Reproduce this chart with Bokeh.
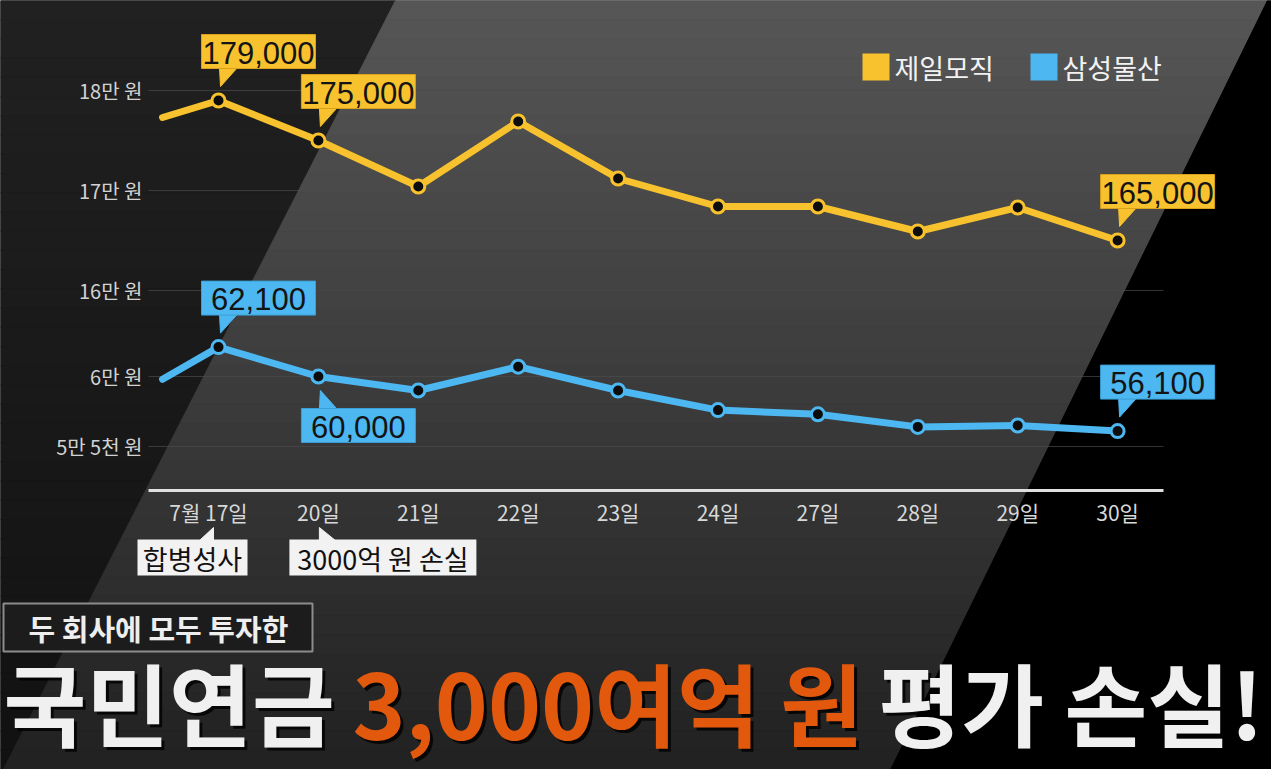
import numpy as np
from bokeh.plotting import figure
from bokeh.models import Range1d
from bokeh.core.properties import value
from bokeh.embed import file_html
from bokeh.resources import INLINE

days = ["7월 17일", "20일", "21일", "22일", "23일", "24일", "27일", "28일", "29일", "30일"]
cheil = [179000, 175000, 170400, 176900, 171200, 168400, 168400, 165900, 168300, 165000]
samsung = [62100, 60000, 59000, 60700, 59000, 57600, 57300, 56400, 56500, 56100]
# the lines come in from the previous trading day, cut at the left edge
lead_day = -0.56
cheil_lead = 177300
samsung_lead = 59800

upper_ticks = [180000, 170000, 160000]
upper_tick_labels = ["18만 원", "17만 원", "16만 원"]
lower_ticks = [60000, 55000]
lower_tick_labels = ["6만 원", "5만 5천 원"]

cheil_callouts = [0, 1, 9]
samsung_callouts = [0, 1, 9]
samsung_below = [1]          # 60,000 label hangs under its point
events = ["합병성사", "3000억 원 손실"]
event_days = [0, 1]

series_names = ["제일모직", "삼성물산"]
YELLOW = "#F7C22E"
BLUE = "#4DB7F1"
KR = value("Noto Sans CJK KR")
NUM = value("Liberation Sans")

# --- page / scale layout (page pixels) ---
W, H = 1271, 769
X0, DX = 218, 99.9             # pixel of first day, pixels per day
days_rng = Range1d(-X0 / DX, (W - X0) / DX)
upper_rng = Range1d(180000 - (H - 90) * 100, 180000 + 90 * 100)
lower_rng = Range1d(60000 - (H - 376) * 1000 / 14, 60000 + 376 * 1000 / 14)

p = figure(width=W, height=H, x_axis_type=None, y_axis_type=None,
           x_range=Range1d(0, W), y_range=Range1d(H, 0),
           toolbar_location=None, output_backend="svg", min_border=0)
p.extra_x_ranges = {"days": days_rng}
p.extra_y_ranges = {"upper": upper_rng, "lower": lower_rng}
p.background_fill_color = "#1b1b1b"
p.border_fill_color = "#1b1b1b"
p.outline_line_color = None


def to_px(i, v, rng):
    x = (i - days_rng.start) / (days_rng.end - days_rng.start) * W
    y = (rng.end - v) / (rng.end - rng.start) * H
    return x, y


# background: dark left, lighter diagonal band, black right
N = 40
ys = np.linspace(0, H, N + 1)
band_l = lambda y: 395 - 0.51 * y
band_r = lambda y: 1267 - 0.49 * y
xs_b, ys_b, col_b, xs_l, ys_l, col_l = [], [], [], [], [], []
for k in range(N):
    a, b = ys[k], ys[k + 1]
    xs_b.append([band_l(a), band_r(a), band_r(b), band_l(b)])
    ys_b.append([a, a, b, b])
    g = int(86 - (86 - 34) * k / (N - 1))
    col_b.append("#%02x%02x%02x" % (g, g, g))
    xs_l.append([0, band_l(a), band_l(b), 0])
    ys_l.append([a, a, b, b])
    g = int(33 - 15 * k / (N - 1))
    col_l.append("#%02x%02x%02x" % (g, g, g))
p.patches(xs_l, ys_l, fill_color=col_l, line_color=col_l, line_width=1)
p.patches(xs_b, ys_b, fill_color=col_b, line_color=col_b, line_width=1)
p.patch([band_r(0), W, W, band_r(H)], [0, 0, H, H],
        fill_color="#000000", line_color="#000000")

# gridlines and y labels
for ticks, labels, rng in [(upper_ticks, upper_tick_labels, "upper"),
                           (lower_ticks, lower_tick_labels, "lower")]:
    p.segment(x0=148, x1=1163, y0=ticks, y1=ticks, y_range_name=rng,
              line_color="#4a4a4a", line_width=1, line_alpha=0.7)
    p.text(x=142, y=ticks, text=labels, y_range_name=rng, text_align="right",
           text_baseline="middle", text_font=KR, text_font_size="20px",
           text_color="#d2d2d2")

# x axis
p.segment(x0=148, x1=1163, y0=490, y1=490, line_color="#e0e0e0", line_width=3)
idx = list(range(len(days)))
p.text(x=idx, y=511, text=days, x_range_name="days", text_align="center",
       text_baseline="middle", text_font=KR, text_font_size="21px",
       text_color="#d8d8d8", x_offset=[-10] + [0] * (len(days) - 1))

# series
for vals, lead, color, rng in [(cheil, cheil_lead, YELLOW, "upper"),
                               (samsung, samsung_lead, BLUE, "lower")]:
    p.line([lead_day] + idx, [lead] + vals, x_range_name="days", y_range_name=rng,
           line_color=color, line_width=7, line_join="round", line_cap="round")
    p.scatter(idx, vals, x_range_name="days", y_range_name=rng, size=13,
              fill_color="#0d0d0d", line_color=color, line_width=3)

# value callouts
for vals, picks, color, rng_name, rng in [(cheil, cheil_callouts, YELLOW, "upper", upper_rng),
                                          (samsung, samsung_callouts, BLUE, "lower", lower_rng)]:
    for i in picks:
        px, py = to_px(i, vals[i], rng)
        below = rng_name == "lower" and i in samsung_below
        left, right = px - 17, px + 97
        if below:
            top, bottom = py + 32, py + 66
            tri_y = [top + 1, top + 1, py + 14]
        else:
            top, bottom = py - 66, py - 32
            tri_y = [bottom - 1, bottom - 1, py - 14]
        p.patch([px + 1, px + 19, px + 2], tri_y, fill_color=color, line_color=color)
        p.quad(left=left, right=right, top=top, bottom=bottom,
               fill_color=color, line_color="#d9a21a" if color == YELLOW else "#3a9fd6")
        p.text(x=(left + right) / 2, y=(top + bottom) / 2 + 1, text=[f"{vals[i]:,}"],
               text_align="center", text_baseline="middle", text_font=NUM,
               text_font_size="31px", text_color="#141414")

# event notes under the axis
event_left = [-81, -29]
event_width = [110, 187]
for k, (name, d) in enumerate(zip(events, event_days)):
    px, _ = to_px(d, 0, upper_rng)
    left = px + event_left[k]
    right = left + event_width[k]
    tip = px - 5 if k == 0 else px + 1
    if k == 0:
        p.patch([tip - 14, tip, tip], [540, 540, 527], fill_color="#f2f2f2", line_color="#f2f2f2")
    else:
        p.patch([tip, tip, tip + 16], [540, 527, 540], fill_color="#f2f2f2", line_color="#f2f2f2")
    p.quad(left=left, right=right, top=539, bottom=575, fill_color="#f2f2f2", line_color=None)
    p.text(x=(left + right) / 2, y=558, text=[name], text_align="center",
           text_baseline="middle", text_font=KR, text_font_size="27px",
           text_color="#111111")

# legend
for sq_x, txt_x, name, color in [(862, 894, series_names[0], YELLOW),
                                 (1030, 1062, series_names[1], BLUE)]:
    p.quad(left=sq_x, right=sq_x + 27, top=53, bottom=80, fill_color=color, line_color=None)
    p.text(x=txt_x, y=67, text=[name], text_baseline="middle", text_font=KR,
           text_font_size="27px", text_color="#f2f2f2")

# headline
p.quad(left=3, right=312, top=603, bottom=651, fill_color="#1c1c1c",
       line_color="#8c8c8c", line_width=2)
p.text(x=28, y=627, text=["두 회사에 모두 투자한"], text_baseline="middle", text_font=KR,
       text_font_size="29px", text_font_style="bold", text_color="#eeeeee")
for x, txt, color in [(3, "국민연금", "#f0f0f0"), (352, "3,000여억 원", "#E2580C"),
                      (878, "평가 손실!", "#f0f0f0")]:
    p.text(x=x + 3, y=703, text=[txt], text_baseline="middle", text_font=KR,
           text_font_size="90px", text_font_style="bold", text_color="#000000", text_alpha=0.8)
    p.text(x=x, y=700, text=[txt], text_baseline="middle", text_font=KR,
           text_font_size="90px", text_font_style="bold", text_color=color)

open("out.html", "w").write(file_html(p, INLINE))
